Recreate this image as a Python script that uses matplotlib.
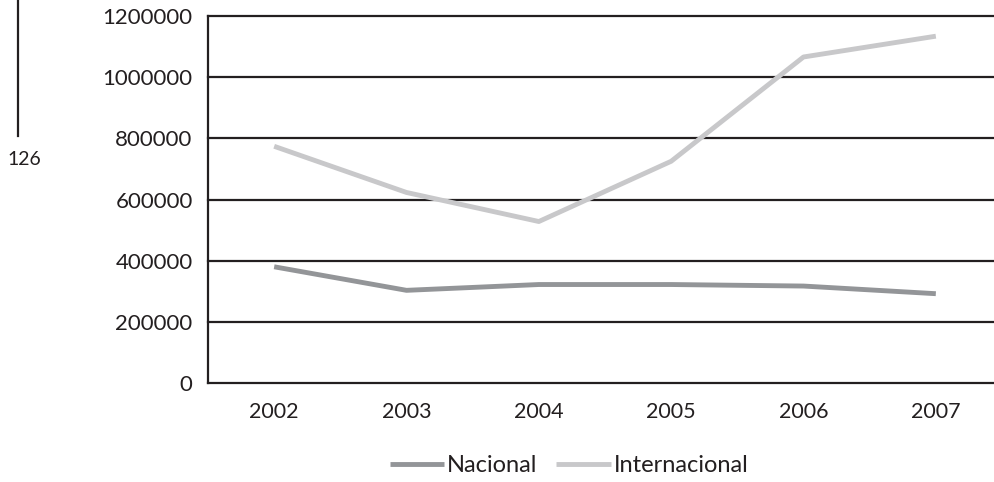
import numpy as np
import matplotlib
matplotlib.use("Agg")
import matplotlib.pyplot as plt
from matplotlib.lines import Line2D

plt.rcParams['font.family'] = ['Lato', 'DejaVu Sans']

# passenger totals per year
years = ['2002', '2003', '2004', '2005', '2006', '2007']
nacional = [380000, 303000, 322000, 322000, 317000, 292000]
internacional = [774000, 623000, 528000, 725000, 1066000, 1134000]
yticks = [0, 200000, 400000, 600000, 800000, 1000000, 1200000]

grid_col = '#231f20'
nac_col = '#939598'
int_col = '#c8c8ca'

fig = plt.figure(figsize=(9.94, 4.82), dpi=100)
ax = fig.add_axes([208 / 994, 99 / 482, 794 / 994, 367 / 482])

x = np.arange(len(years))
ax.plot(x, nacional, color=nac_col, lw=3.5, solid_joinstyle='round',
        solid_capstyle='butt', zorder=3)
ax.plot(x, internacional, color=int_col, lw=3.5, solid_joinstyle='round',
        solid_capstyle='butt', zorder=3)

ax.set_xlim(-0.5, 5.5)
ax.set_ylim(0, 1200000)
ax.set_yticks(yticks)
ax.set_yticklabels([str(v) for v in yticks], fontsize=16, color='#231f20')
ax.set_xticks(x)
ax.set_xticklabels(years, fontsize=15.5, color='#231f20')
ax.tick_params(axis='y', length=0, pad=11)
ax.tick_params(axis='x', length=0, pad=14)

for v in yticks[1:]:
    ax.axhline(v, color=grid_col, lw=1.6, zorder=1, clip_on=False)

for s in ['top', 'right']:
    ax.spines[s].set_visible(False)
for s in ['left', 'bottom']:
    ax.spines[s].set_color(grid_col)
    ax.spines[s].set_linewidth(1.6)

handles = [Line2D([], [], color=nac_col, lw=3.5, solid_capstyle='butt'),
           Line2D([], [], color=int_col, lw=3.5, solid_capstyle='butt')]
fig.legend(handles, ['Nacional', 'Internacional'], loc='center',
           bbox_to_anchor=(569 / 994, 16 / 482), ncol=2, frameon=False,
           fontsize=17, handlelength=2.3, handletextpad=0.12,
           columnspacing=0.8, labelcolor='#231f20')

# page margin rule and page number
fig.add_artist(Line2D([18 / 994, 18 / 994], [1.0, 1 - 136 / 482],
                      color=grid_col, lw=1.6))
fig.text(24 / 994, 1 - 160 / 482, '126', fontsize=14, ha='center',
         va='center', color='#231f20')

fig.savefig('out.png', dpi=100)
